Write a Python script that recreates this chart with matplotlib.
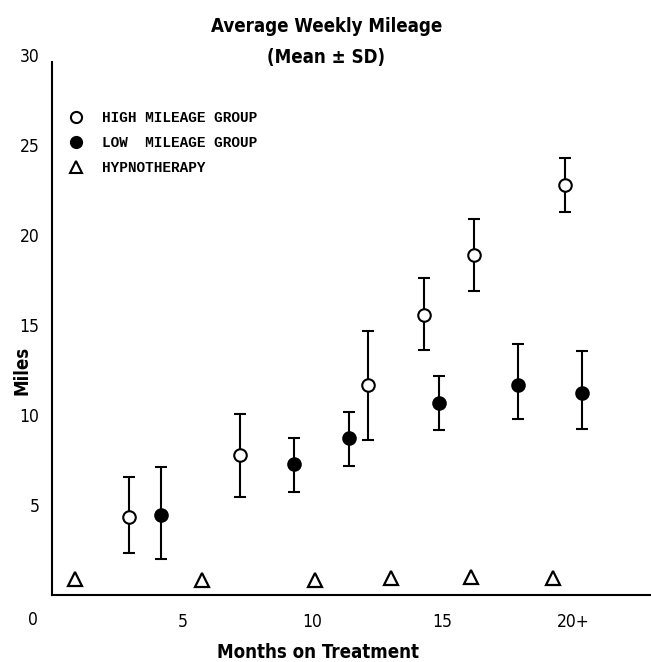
import numpy as np
import matplotlib
matplotlib.use('Agg')
import matplotlib.pyplot as plt
from matplotlib import font_manager
from matplotlib.lines import Line2D

# =============================================================================
# Average weekly mileage by months on treatment
# =============================================================================

# high mileage group (open circles)
high_month = [2.97, 7.23, 12.15, 14.3, 16.2, 19.7]
high_mean = [4.35, 7.76, 11.67, 15.56, 18.9, 22.8]
high_top = [6.57, 10.07, 14.67, 17.6, 20.9, 24.3]
high_bot = [2.33, 5.46, 8.61, 13.6, 16.9, 21.3]

# low mileage group (filled circles)
low_month = [4.17, 9.28, 11.4, 14.85, 17.9, 20.35]
low_mean = [4.44, 7.28, 8.72, 10.67, 11.67, 11.2]
low_top = [7.13, 8.74, 10.17, 12.17, 13.94, 13.56]
low_bot = [2.0, 5.74, 7.17, 9.17, 9.78, 9.22]

# hypnotherapy (triangles)
hyp_month = [0.88, 5.76, 10.1, 13.0, 16.1, 19.24]
hyp_mean = [0.89, 0.83, 0.83, 0.96, 1.02, 0.96]

xtick_pos = [5, 10, 15, 20]
xtick_lab = ['5', '10', '15', '20+']
ytick_pos = [5, 10, 15, 20, 25, 30]
legend_labels = ['HIGH MILEAGE GROUP', 'LOW  MILEAGE GROUP', 'HYPNOTHERAPY']


# pick a narrow sans if one is around, the scan uses condensed type
def narrow_font():
    for fam in ['Liberation Sans Narrow', 'Arial Narrow']:
        try:
            font_manager.findfont(fam, fallback_to_default=False)
            return {'family': fam}, 1.0
        except ValueError:
            pass
    path = font_manager.findfont(font_manager.FontProperties(
        family='DejaVu Sans', stretch='condensed'))
    if 'Condensed' in path:
        return {'family': 'DejaVu Sans', 'stretch': 'condensed'}, 0.84
    return {'family': 'Liberation Sans'}, 0.9

nf, k = narrow_font()
tick_kw = dict(nf, fontsize=12.5)
bold_kw = dict(nf, fontweight='bold', fontsize=round(16 * k, 1))
leg_font = ['Liberation Mono', 'DejaVu Sans Mono']

fig = plt.figure(figsize=(6.51, 6.62), dpi=100)
ax = fig.add_axes([0.080, 0.101, 0.92, 0.816])

def err(mean, top, bot):
    m = np.array(mean)
    return [m - np.array(bot), np.array(top) - m]

ax.errorbar(high_month, high_mean, yerr=err(high_mean, high_top, high_bot),
            fmt='o', ms=9, mfc='white', mec='black', mew=1.5,
            ecolor='black', elinewidth=1.5, capsize=4.5, capthick=1.5,
            zorder=3)
ax.errorbar(low_month, low_mean, yerr=err(low_mean, low_top, low_bot),
            fmt='o', ms=9, mfc='black', mec='black', mew=1.5,
            ecolor='black', elinewidth=1.5, capsize=4.5, capthick=1.5,
            zorder=3)
ax.plot(hyp_month, hyp_mean, '^', ms=10, mfc='white', mec='black', mew=1.6,
        ls='none', zorder=3)

ax.set_xticks(xtick_pos)
ax.set_xticklabels(xtick_lab, **tick_kw)
ax.set_yticks(ytick_pos)
ax.set_yticklabels([str(v) for v in ytick_pos], **tick_kw)
ax.tick_params(length=0, pad=9)
ax.tick_params(axis='x', pad=13)
ax.set_xlim(0, 23)
ax.set_ylim(0, 30)

ax.spines['top'].set_visible(False)
ax.spines['right'].set_visible(False)
ax.spines['left'].set_bounds(0, 29.6)
for s in ('left', 'bottom'):
    ax.spines[s].set_linewidth(1.5)

# the lone "0" under the origin sits left of the axis in the scan
ax.annotate('0', xy=(-0.75, 0), xycoords=('data', 'axes fraction'),
            xytext=(0, -18), textcoords='offset points',
            ha='center', va='center', annotation_clip=False, **tick_kw)

fig.text(0.5015, 1 - 32 / 662, 'Average Weekly Mileage', ha='center',
         va='baseline', **bold_kw)
fig.text(0.5015, 1 - 63 / 662, '(Mean ± SD)', ha='center',
         va='baseline', **bold_kw)
fig.text(318 / 651, 1 - 658 / 662, 'Months on Treatment', ha='center',
         va='baseline', **bold_kw)
fig.text(22 / 651, 1 - 370 / 662, 'Miles', ha='center', va='center',
         rotation=90, **bold_kw)

handles = [
    Line2D([], [], marker='o', ls='none', ms=8, mfc='white', mec='black', mew=1.5),
    Line2D([], [], marker='o', ls='none', ms=8, mfc='black', mec='black', mew=1.5),
    Line2D([], [], marker='^', ls='none', ms=9, mfc='white', mec='black', mew=1.5),
]
ax.legend(handles, legend_labels, loc='upper left',
          bbox_to_anchor=(0.006, 0.92), frameon=False, handlelength=1.0,
          handletextpad=1.3, labelspacing=0.75,
          prop={'family': leg_font, 'weight': 'bold', 'size': 10.4})

fig.savefig('out.png', dpi=100)
plt.close()
